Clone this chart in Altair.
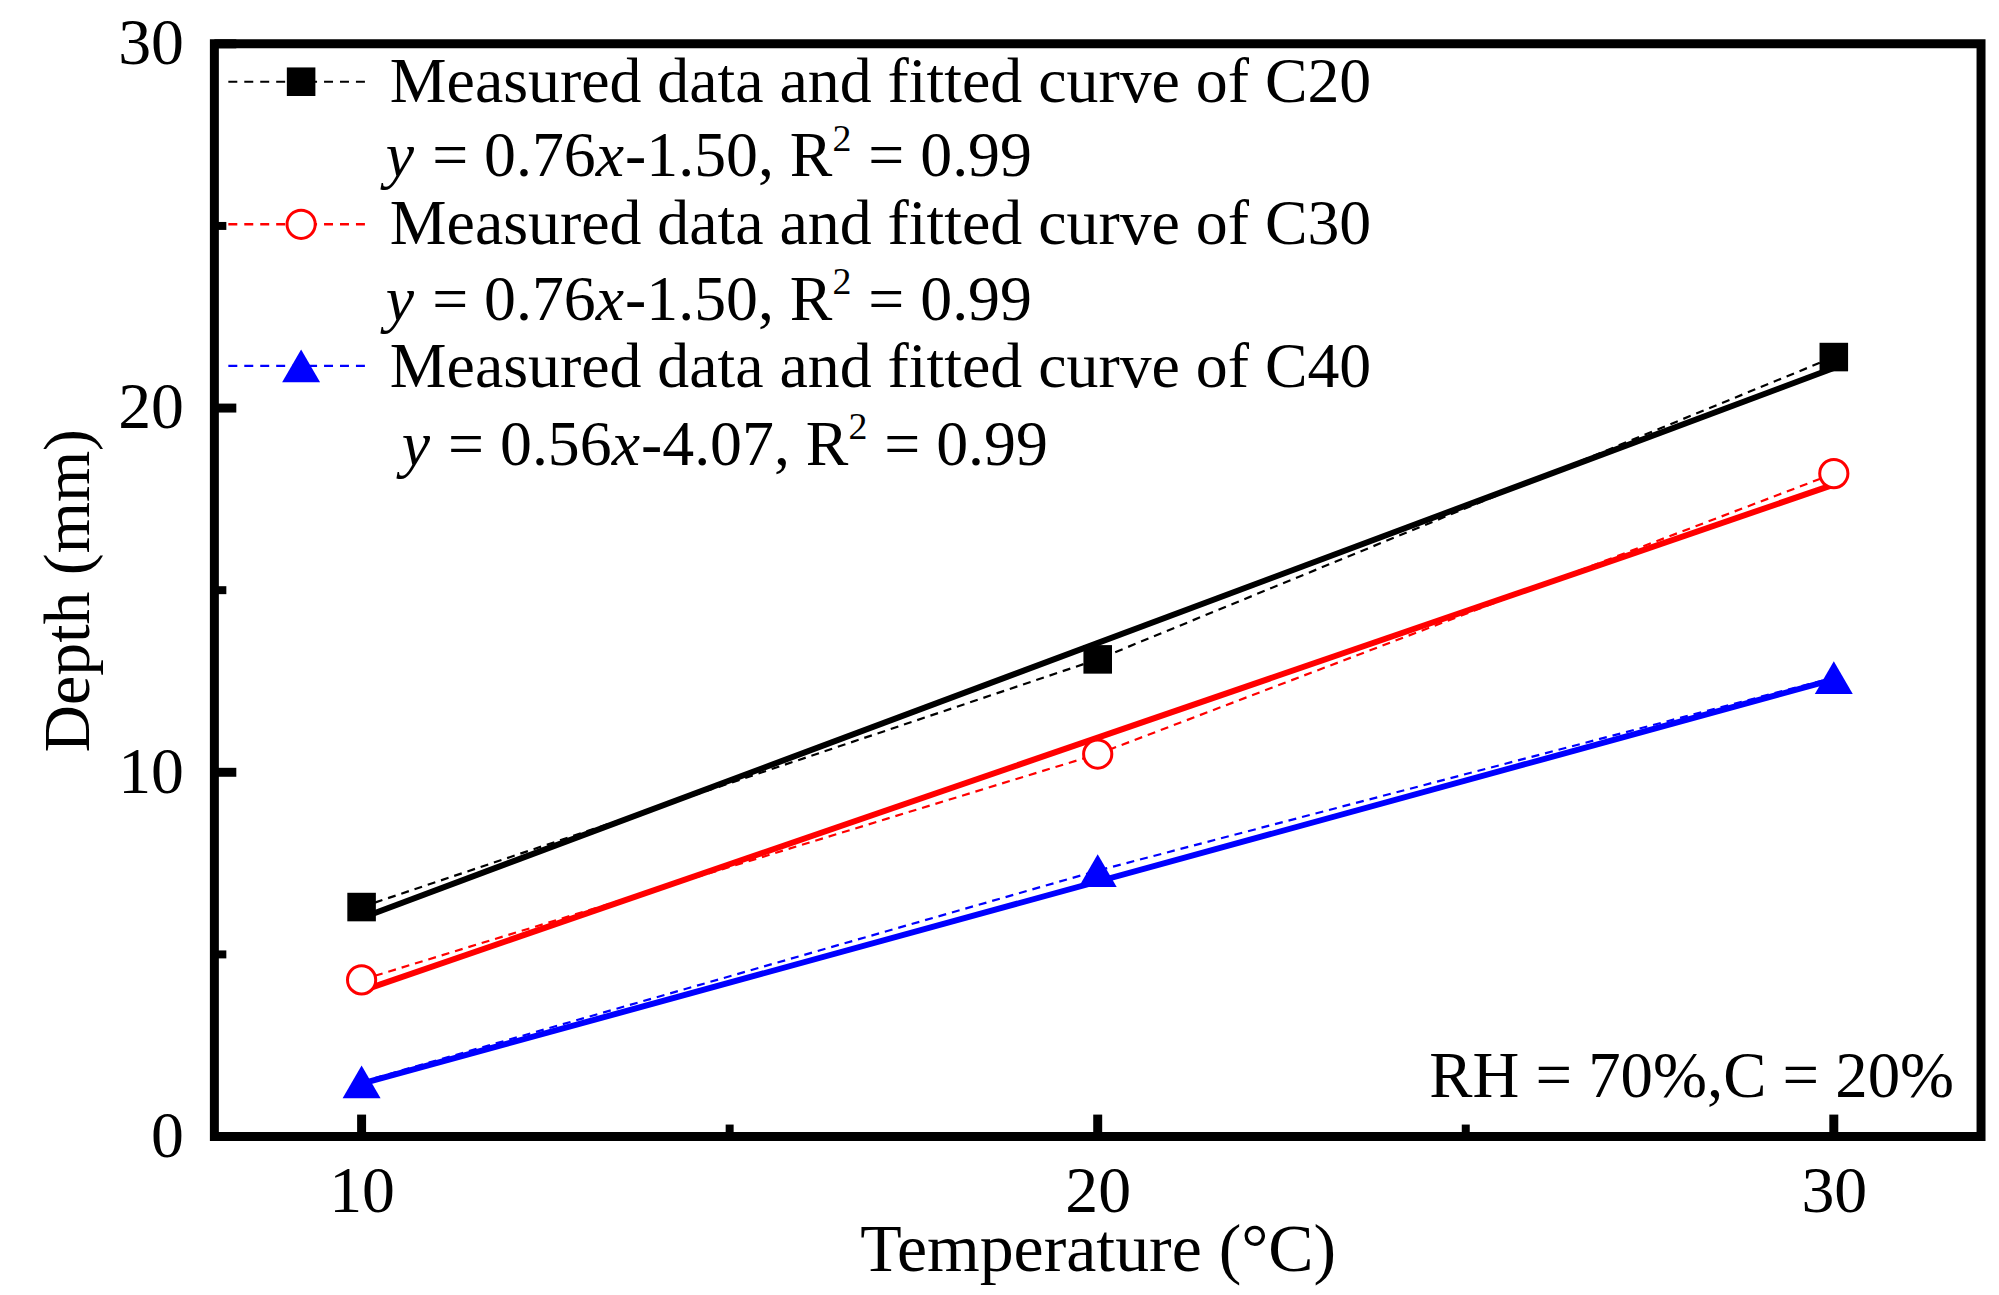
import altair as alt
import pandas as pd

# ---------------- data ----------------
temps = [10, 20, 30]
series = ["C20", "C30", "C40"]
c20_meas = [6.3, 13.1, 21.4]
c30_meas = [4.3, 10.5, 18.2]
c40_meas = [1.5, 7.3, 12.6]
fit_x = [10, 30]
c20_fit = [6.0, 21.1]
c30_fit = [4.0, 17.9]
c40_fit = [1.45, 12.55]
colors = ["#000000", "#ff0000", "#0000ff"]

legend_labels = [
    "Measured data and fitted curve of C20",
    "Measured data and fitted curve of C30",
    "Measured data and fitted curve of C40",
]
eq_slopes = ["0.76", "0.76", "0.56"]
eq_intercepts = ["-1.50", "-1.50", "-4.07"]
eq_r2 = ["0.99", "0.99", "0.99"]
note_text = "RH = 70%,C = 20%"

x_major = [10, 20, 30]
x_minor = [15, 25]
y_major = [0, 10, 20, 30]
y_minor = [5, 15, 25]

x_title = "Temperature (°C)"
y_title = "Depth (mm)"

# ---------------- layout ----------------
W, H = 1772, 1096
FONT = "Liberation Serif"
TICK_FS = 66
XTITLE_FS = 68
YTITLE_FS = 66
LEG_FS = 64
NOTE_FS = 65

xs = alt.Scale(domain=[8, 32], nice=False, zero=False)
ys = alt.Scale(domain=[0, 30], nice=False, zero=False)

meas = pd.DataFrame({
    "series": [s for s in series for _ in temps],
    "temp": temps * 3,
    "depth": c20_meas + c30_meas + c40_meas,
})
fits = pd.DataFrame({
    "series": [s for s in series for _ in fit_x],
    "temp": fit_x * 3,
    "depth": c20_fit + c30_fit + c40_fit,
})
color_scale = alt.Scale(domain=series, range=colors)

x_enc = alt.X("temp:Q", scale=xs, title=x_title,
              axis=alt.Axis(values=x_major, format="d", grid=False, domain=False,
                            tickSize=0, labelFont=FONT, labelFontSize=TICK_FS,
                            labelPadding=23, labelColor="black",
                            titleFont=FONT, titleFontSize=XTITLE_FS,
                            titleFontWeight="normal", titleColor="black",
                            titlePadding=-8))
y_enc = alt.Y("depth:Q", scale=ys, title=y_title,
              axis=alt.Axis(values=y_major, format="d", grid=False, domain=False,
                            tickSize=0, labelFont=FONT, labelFontSize=TICK_FS,
                            labelPadding=31, labelColor="black",
                            titleFont=FONT, titleFontSize=YTITLE_FS,
                            titleFontWeight="normal", titleColor="black",
                            titlePadding=15))

fit_layer = alt.Chart(fits).mark_line(strokeWidth=6).encode(
    x=x_enc, y=y_enc,
    color=alt.Color("series:N", scale=color_scale, legend=None),
    detail="series:N",
)
meas_line = alt.Chart(meas).mark_line(strokeWidth=2.2, strokeDash=[8, 6]).encode(
    x=alt.X("temp:Q", scale=xs), y=alt.Y("depth:Q", scale=ys),
    color=alt.Color("series:N", scale=color_scale, legend=None),
    detail="series:N",
)

marker_specs = [
    dict(shape="square", filled=True, fill=colors[0], stroke=colors[0], size=820, strokeWidth=0),
    dict(shape="circle", filled=True, fill="white", stroke=colors[1], size=800, strokeWidth=3),
    dict(shape="triangle-up", filled=True, fill=colors[2], stroke=colors[2], size=1450, strokeWidth=0),
]
point_layers = []
for s, spec in zip(series, marker_specs):
    point_layers.append(
        alt.Chart(meas[meas["series"] == s]).mark_point(opacity=1, **spec).encode(
            x=alt.X("temp:Q", scale=xs), y=alt.Y("depth:Q", scale=ys)
        )
    )

# inward ticks
tick_layers = []
for vals, length, sw in [(x_major, 22, 9), (x_minor, 12, 8)]:
    tick_layers.append(
        alt.Chart(pd.DataFrame({"temp": vals})).mark_rule(color="black", strokeWidth=sw).encode(
            x=alt.X("temp:Q", scale=xs), y=alt.value(H), y2=alt.value(H - length)
        )
    )
for vals, length, sw in [(y_major, 22, 9), (y_minor, 12, 8)]:
    tick_layers.append(
        alt.Chart(pd.DataFrame({"depth": vals})).mark_rule(color="black", strokeWidth=sw).encode(
            y=alt.Y("depth:Q", scale=ys), x=alt.value(0), x2=alt.value(length)
        )
    )

# ---------------- manual legend ----------------
leg_marker_x = 87
leg_row_y = [38, 181, 323]
leg_line_x = [14, 152]
leg_text_x = 176
leg_text_base = [58, 201, 344]
eq_base = [133, 277, 422]
eq_start = [172, 172, 188]
leg_dash_w = [2.0, 2.6, 2.4]

dummy = pd.DataFrame({"a": [0]})
legend_layers = []
for i in range(3):
    legend_layers.append(
        alt.Chart(dummy).mark_rule(color=colors[i], strokeWidth=leg_dash_w[i], strokeDash=[9, 7]).encode(
            x=alt.value(leg_line_x[0]), x2=alt.value(leg_line_x[1]), y=alt.value(leg_row_y[i])
        )
    )
    legend_layers.append(
        alt.Chart(dummy).mark_point(opacity=1, **marker_specs[i]).encode(
            x=alt.value(leg_marker_x), y=alt.value(leg_row_y[i])
        )
    )
    legend_layers.append(
        alt.Chart(dummy).mark_text(font=FONT, fontSize=LEG_FS, align="left",
                                   baseline="alphabetic", color="black").encode(
            x=alt.value(leg_text_x), y=alt.value(leg_text_base[i]), text=alt.value(legend_labels[i])
        )
    )

# equation pieces (advance widths in em, Times metrics)
ADV = {" ": 0.25, "=": 0.564, ".": 0.25, ",": 0.25, "-": 0.333, "R": 0.667}
for d in "0123456789":
    ADV[d] = 0.5


def adv(s, fs):
    return sum(ADV.get(ch, 0.5) for ch in s) * fs


SUP_FS = 38
for i in range(3):
    pieces = [
        ("y", "italic", LEG_FS, 0, 0.444 * LEG_FS + 2),
        (" = " + eq_slopes[i], "normal", LEG_FS, 0, None),
        ("x", "italic", LEG_FS, 0, 0.444 * LEG_FS + 1),
        (eq_intercepts[i] + ", R", "normal", LEG_FS, 0, None),
        ("2", "normal", SUP_FS, -26, 0.5 * SUP_FS + 1),
        (" = " + eq_r2[i], "normal", LEG_FS, 0, None),
    ]
    cx = eq_start[i]
    for txt, style, fs, dy, w in pieces:
        lead = len(txt) - len(txt.lstrip(" "))
        cx += lead * ADV[" "] * fs
        txt = txt.lstrip(" ")
        legend_layers.append(
            alt.Chart(dummy).mark_text(font=FONT, fontSize=fs, fontStyle=style, align="left",
                                       baseline="alphabetic", color="black").encode(
                x=alt.value(cx), y=alt.value(eq_base[i] + dy), text=alt.value(txt)
            )
        )
        cx += w if w is not None else adv(txt, fs)

note_layer = alt.Chart(dummy).mark_text(font=FONT, fontSize=NOTE_FS, align="right",
                                        baseline="alphabetic", color="black").encode(
    x=alt.value(1745), y=alt.value(1056), text=alt.value(note_text)
)

chart = alt.layer(
    fit_layer, meas_line, *point_layers, *tick_layers, *legend_layers, note_layer
).properties(
    width=W, height=H,
    autosize=alt.AutoSizeParams(type="none"),
    padding={"left": 207, "top": 34, "right": 10, "bottom": 150},
).configure(
    background="white",
    view=alt.ViewConfig(stroke="black", strokeWidth=9),
)

chart.save("out.html", embed_options={"renderer": "svg", "actions": False})
